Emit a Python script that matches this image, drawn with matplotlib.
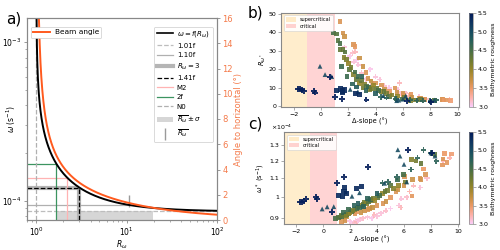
import numpy as np
import matplotlib
matplotlib.use("Agg")
import matplotlib.pyplot as plt
from matplotlib.colors import LinearSegmentedColormap, Normalize
from matplotlib.cm import ScalarMappable
from matplotlib.patches import Patch
from matplotlib.lines import Line2D
from matplotlib.ticker import NullLocator

# ---------------- panel a values ----------------
f_cor = 8.6e-5          # Coriolis frequency (s^-1)
N0 = 1.67e-3            # buoyancy frequency (s^-1)
M2 = 1.405e-4           # M2 tidal frequency (s^-1)
R_mean = 10.6
R_sigma = 8.95
R_three = 3.0
a_xlim = (0.79, 100)
a_ylim = (7.6e-5, 1.42e-3)
angle_ylim = (0, 16)
angle_ticks = [0, 2, 4, 6, 8, 10, 12, 14, 16]

# ---------------- panels b, c values ----------------
# x = delta-slope (deg), R = R_omega*, w = omega* (x1e-4 s^-1), r = bathymetric roughness
navP_x = [-1.7, -1.55, -1.4, -1.25, -0.5, -0.45, 0.65, 1.0, 1.53, 3.33, 6.28, 8.05]
navP_R = [9.3, 9.1, 8.8, 8.4, 8.0, 7.4, 15.9, 5.2, 4.0, 3.6, 3.0, 2.5]
navP_w = [0.975, 0.978, 0.983, 0.99, 1.0, 0.992, 0.927, 1.073, 1.105, 1.163, 1.268, 1.25]
navP_r = 5.45

navS_x = [1.15, 1.45, 1.55, 1.6, 1.75, 2.5, 2.85]
navS_R = [8.7, 9.3, 8.2, 7.6, 8.8, 7.0, 6.3]
navS_w = [1.008, 1.005, 1.03, 1.05, 1.02, 1.044, 1.055]
navS_r = 5.35

tri_x = [-0.07, 0.3, 0.79, 2.14, 2.7, 4.56, 5.54, 5.7, 6.0, 6.2, 8.0, 8.3]
tri_R = [21.6, 17.1, 16.0, 9.1, 7.8, 5.7, 3.0, 3.3, 3.8, 5.5, 3.1, 3.3]
tri_w = [0.943, 0.953, 0.954, 1.005, 1.023, 1.073, 1.27, 1.23, 1.18, 1.08, 1.25, 1.23]
tri_r = 5.0

grnP_x = [4.4, 4.8, 5.5, 7.45, 8.0, 8.4, 6.5, 7.0]
grnP_R = [5.0, 4.6, 4.0, 3.0, 2.8, 3.2, 3.3, 3.1]
grnP_w = [1.075, 1.08, 1.107, 1.268, 1.25, 1.198, 1.15, 1.22]
grnP_r = 4.7

sq_x = [0.9, 1.14, 1.26, 1.38, 1.38, 1.62, 1.75, 1.5, 1.87, 2.1, 2.36, 2.6, 2.84, 3.08,
        3.57, 4.05, 4.4, 4.78, 5.0, 5.5, 5.97, 6.55, 6.9, 7.27, 8.3, 1.7, 2.0, 2.2, 2.5,
        2.7, 2.95, 3.2, 3.35, 3.5, 3.7, 3.85, 4.2, 4.6, 3.0, 2.3, 1.9, 2.6, 3.3, 4.0,
        5.2, 5.6, 6.1]
sq_R = [39.6, 39.0, 35.6, 34.0, 30.6, 30.6, 29.3, 21.6, 25.2, 19.8, 17.0, 14.3, 12.4, 9.8,
        9.0, 9.7, 7.9, 7.0, 5.2, 4.3, 3.8, 3.2, 3.4, 3.5, 3.0, 26.5, 23.0, 21.0, 18.5,
        16.0, 14.0, 12.0, 11.0, 10.5, 9.5, 11.5, 8.5, 8.0, 16.0, 12.0, 16.0, 10.5, 8.5, 7.0,
        6.0, 5.5, 4.8]
sq_w = [0.900, 0.902, 0.905, 0.908, 0.912, 0.915, 0.918, 0.925, 0.920, 0.930, 0.940, 0.952,
        0.960, 0.975, 0.985, 1.000, 1.020, 1.035, 1.060, 1.090, 1.120, 1.210, 1.200, 1.186,
        1.240, 0.910, 0.925, 0.935, 0.945, 0.950, 0.965, 0.970, 0.980, 0.990, 0.995, 0.985,
        1.010, 1.030, 0.955, 0.960, 0.940, 0.970, 0.995, 1.020, 1.045, 1.060, 1.080]
sq_r = [4.5, 4.4, 4.4, 4.5, 4.3, 4.3, 4.4, 4.6, 4.2, 4.4, 4.1, 4.3, 4.0, 4.2,
        4.1, 4.3, 4.0, 4.2, 4.4, 4.6, 4.5, 4.1, 4.2, 4.3, 4.4, 4.1, 4.0, 4.2, 4.5,
        4.6, 4.3, 4.1, 4.4, 4.6, 4.2, 4.0, 4.5, 4.3, 4.7, 4.7, 4.6, 4.8, 4.7, 4.8,
        4.1, 4.0, 4.2]

org_x = [1.38, 1.62, 1.73, 2.36, 2.48, 3.08, 3.3, 3.45, 3.66, 4.43, 4.66, 5.0, 5.42, 5.55,
         6.0, 6.04, 6.6, 6.65, 7.2, 7.27, 7.44, 7.6, 8.87, 8.9, 9.0, 9.2, 9.5, 2.8, 4.0]
org_R = [45.9, 39.6, 37.7, 33.4, 32.4, 21.6, 18.4, 15.0, 13.7, 11.5, 9.3, 7.9, 9.9, 7.5,
         6.9, 5.8, 6.3, 5.0, 4.5, 4.2, 3.8, 3.6, 3.6, 3.5, 3.3, 3.3, 3.2, 26.0, 12.5]
org_w = [0.885, 0.890, 0.905, 0.920, 0.930, 0.935, 0.940, 0.946, 0.950, 0.970, 0.980, 1.000,
         1.028, 1.040, 1.060, 1.109, 1.007, 1.094, 1.100, 1.094, 1.153, 1.120, 1.176, 1.212,
         1.247, 1.190, 1.243, 0.925, 0.960]
org_r = [3.6, 3.65, 3.7, 3.6, 3.55, 3.7, 3.6, 3.65, 3.75, 3.6, 3.7, 3.55, 3.6, 3.7,
         3.65, 3.6, 3.55, 3.7, 3.6, 3.65, 3.5, 3.6, 3.55, 3.6, 3.5, 3.55, 3.45, 3.7, 3.6]

pnk_x = [2.0, 2.1, 2.3, 2.4, 2.5, 2.6, 2.72, 2.96, 3.3, 3.6, 3.8, 4.0, 4.3, 4.65, 5.0,
         5.63, 5.75, 5.79, 6.2, 6.4, 6.7, 7.2, 7.7, 8.9, 9.4, 1.73]
pnk_R = [24.0, 27.0, 28.8, 24.0, 29.5, 25.0, 22.5, 18.0, 14.6, 20.0, 12.0, 16.0, 14.4, 11.0,
         10.0, 9.0, 12.6, 7.0, 7.0, 5.5, 4.2, 5.0, 3.8, 3.5, 3.6, 32.0]
pnk_w = [0.885, 0.882, 0.880, 0.888, 0.884, 0.890, 0.893, 0.900, 0.905, 0.900, 0.915, 0.910,
         0.923, 0.935, 0.945, 0.960, 0.950, 0.992, 1.000, 1.030, 1.060, 1.050, 1.100, 1.200,
         1.220, 0.890]
pnk_r = [3.1, 3.05, 3.15, 3.1, 3.2, 3.05, 3.1, 3.15, 3.1, 3.05, 3.2, 3.1, 3.1, 3.15, 3.05,
         3.1, 3.2, 3.1, 3.15, 3.25, 3.2, 3.1, 3.15, 3.2, 3.25, 3.1]

bc_xlim = (-2.9, 10.1)
b_ylim = (-0.3, 50.6)
c_ylim = (0.873e-4, 1.388e-4)
c_ticks = [0.9e-4, 1.0e-4, 1.1e-4, 1.2e-4, 1.3e-4]
c_ticklabels = ['0.9', '1', '1.1', '1.2', '1.3']
cb_ticks = [3.0, 3.5, 4.0, 4.5, 5.0, 5.5]

batlow_r = ['#FACCFA', '#FDB0A7', '#EB9965', '#C08F3D', '#93852A', '#6B7A33',
            '#466E47', '#27605A', '#174B61', '#0E3460', '#011959']
cmap = LinearSegmentedColormap.from_list('batlow_r', batlow_r)
norm = Normalize(3.0, 5.5)

ORANGE = '#ff5a1e'
ORANGE_T = '#f47a4a'
SPINE = '#888888'

fig = plt.figure(figsize=(5, 2.5), dpi=100)

# =============== panel a ===============
axA = fig.add_axes([0.054, 0.12, 0.38, 0.808])
for s in axA.spines.values():
    s.set_color(SPINE)


def R_of(omega):
    r2 = (omega / f_cor) ** 2
    return (r2 + 1) / (r2 - 1)


R_curve = np.logspace(np.log10(1.0008), 2, 900)
omega_curve = f_cor * np.sqrt((R_curve + 1) / (R_curve - 1))
with np.errstate(invalid='ignore'):
    beam_curve = np.degrees(np.arctan(np.sqrt((omega_curve ** 2 - f_cor ** 2) /
                                              (N0 ** 2 - omega_curve ** 2))))

x0, y0 = a_xlim[0], a_ylim[0]
axA.fill_between([R_mean - R_sigma, R_mean + R_sigma], y0, 1.01 * f_cor,
                 color='#d6d6d6', lw=0, zorder=1)
axA.hlines(1.01 * f_cor, x0, R_of(1.01 * f_cor), color='#bdbdbd', ls='--', lw=0.9, zorder=2)
axA.hlines(1.10 * f_cor, x0, R_of(1.10 * f_cor), color='#b0b0b0', lw=0.9, zorder=2)
w3 = f_cor * np.sqrt((R_three + 1) / (R_three - 1))
axA.hlines(w3, x0, R_three, color='#b5b5b5', lw=3, zorder=2)
axA.vlines(R_three, y0, w3, color='#b5b5b5', lw=3, zorder=2)
axA.hlines(w3, x0, R_three, color='k', ls='--', lw=0.9, zorder=3)
axA.vlines(R_three, y0, w3, color='k', ls='--', lw=0.9, zorder=3)
axA.hlines(M2, x0, R_of(M2), color='#ffb3b3', lw=0.9, zorder=2)
axA.vlines(R_of(M2), y0, M2, color='#ffb3b3', lw=0.9, zorder=2)
axA.hlines(2 * f_cor, x0, R_of(2 * f_cor), color='#3c9460', lw=0.9, zorder=2)
axA.vlines(R_of(2 * f_cor), y0, 2 * f_cor, color='#3c9460', lw=0.9, zorder=2)
axA.vlines(R_of(N0), y0, N0, color='#b0b0b0', ls='--', lw=0.9, zorder=2)
axA.plot([R_mean], [1.0e-4], marker='|', color='#9a9a9a', ms=8, mew=1, ls='none', zorder=3)
axA.plot(R_curve, omega_curve, color='k', lw=1.4, zorder=4)

axA.set_xscale('log')
axA.set_yscale('log')
axA.set_xlim(*a_xlim)
axA.set_ylim(*a_ylim)
axA.tick_params(labelsize=5.5, length=2.5, width=0.6, color=SPINE, pad=1.5)
axA.tick_params(which='minor', length=1.5, width=0.5, color=SPINE)
axA.set_xlabel(r'$R_\omega$', fontsize=5.5, labelpad=0.5)
axA.set_ylabel(r'$\omega$ (s$^{-1}$)', fontsize=5.5)
axA.yaxis.set_label_coords(-0.05, 0.5)

leg_handles = [
    Line2D([], [], color='k', lw=1.2),
    Line2D([], [], color='#bdbdbd', ls='--', lw=0.9),
    Line2D([], [], color='#b0b0b0', lw=0.9),
    Line2D([], [], color='#b5b5b5', lw=3),
    Line2D([], [], color='k', ls='--', lw=0.9),
    Line2D([], [], color='#ffb3b3', lw=0.9),
    Line2D([], [], color='#3c9460', lw=0.9),
    Line2D([], [], color='#b0b0b0', ls='--', lw=0.9),
    Patch(facecolor='#d6d6d6', edgecolor='none'),
    Line2D([], [], marker='|', color='#9a9a9a', ms=8, mew=1, ls='none'),
]
leg_labels = [r'$\omega=f(R_\omega)$', '1.01f', '1.10f', r'$R_\omega=3$', '1.41f', 'M2', '2f',
              'N0', r'$\overline{R_\omega}\pm\sigma$', r'$\overline{R_\omega}$']
legA = axA.legend(leg_handles, leg_labels, loc='upper right', fontsize=5.0,
                  handlelength=2.3, labelspacing=0.5, borderpad=0.4, handletextpad=0.6,
                  bbox_to_anchor=(0.995, 0.975), framealpha=1)
legA.get_frame().set_linewidth(0.5)

axA2 = axA.twinx()
axA2.plot(R_curve, beam_curve, color=ORANGE, lw=1.4, label='Beam angle')
axA2.set_ylim(*angle_ylim)
axA2.set_yticks(angle_ticks)
axA2.tick_params(labelsize=6, colors=ORANGE_T, length=2.5, width=0.6, pad=1.5)
axA2.tick_params(axis='y', color=SPINE)
axA2.set_ylabel('Angle to horizontal (°)', fontsize=6, color=ORANGE_T)
axA2.yaxis.set_label_coords(1.09, 0.5)
for s in axA2.spines.values():
    s.set_color(SPINE)
legB = axA2.legend(loc='upper left', fontsize=5.3, handlelength=2.3, borderpad=0.35,
                   handletextpad=0.6, bbox_to_anchor=(0.0, 0.975), framealpha=1)
legB.get_frame().set_linewidth(0.5)

fig.text(0.012, 0.925, 'a)', fontsize=11, va='center')
fig.text(0.495, 0.95, 'b)', fontsize=11, va='center')
fig.text(0.497, 0.505, 'c)', fontsize=11, va='center')

# =============== panels b, c ===============
axB = fig.add_axes([0.5626, 0.573, 0.3554, 0.376])
axC = fig.add_axes([0.568, 0.1028, 0.3506, 0.369])
cbB = fig.add_axes([0.9374, 0.573, 0.009, 0.376])
cbC = fig.add_axes([0.9374, 0.1028, 0.009, 0.369])

groups = [
    (pnk_x, pnk_R, pnk_w, pnk_r, 'P', 14),
    (org_x, org_R, org_w, org_r, 's', 11),
    (sq_x, sq_R, sq_w, sq_r, 's', 11),
    (grnP_x, grnP_R, grnP_w, grnP_r, 'P', 16),
    (tri_x, tri_R, tri_w, tri_r, '^', 12),
    (navS_x, navS_R, navS_w, navS_r, 's', 14),
    (navP_x, navP_R, navP_w, navP_r, 'P', 18),
]

for ax, key in ((axB, 'R'), (axC, 'w')):
    ax.axvspan(bc_xlim[0], -1, color='orange', alpha=0.2, lw=0, label='supercritical')
    ax.axvspan(-1, 1, color='red', alpha=0.17, lw=0, label='critical')
    for gx, gR, gw, gr, mk, sz in groups:
        xs = np.asarray(gx)
        cs = np.full(len(xs), gr) if np.isscalar(gr) else np.asarray(gr)
        ys = np.asarray(gR) if key == 'R' else np.asarray(gw) * 1e-4
        ax.scatter(xs, ys, c=cs, cmap=cmap, norm=norm, marker=mk, s=sz, linewidths=0,
                   alpha=0.9, zorder=3)
    ax.set_xlim(*bc_xlim)
    ax.set_xticks([-2, 0, 2, 4, 6, 8, 10])
    ax.set_xticklabels(['−2', '0', '2', '4', '6', '8', '10'])
    ax.tick_params(labelsize=4.5, length=2, width=0.5, color=SPINE, pad=1.5)
    for s in ax.spines.values():
        s.set_color(SPINE)
    ax.set_xlabel('Δ-slope (°)', fontsize=4.8, labelpad=1)
    lg = ax.legend(loc='upper left', fontsize=3.6, handlelength=2.0, handleheight=0.9,
                   borderpad=0.4, labelspacing=0.3, framealpha=0.9)
    lg.get_frame().set_linewidth(0.4)

axB.set_ylim(*b_ylim)
axB.set_yticks([0, 10, 20, 30, 40, 50])
axB.set_ylabel(r'$R_{\omega^*}$', fontsize=4.8)
axB.yaxis.set_label_coords(-0.075, 0.5)

axC.set_yscale('log')
axC.set_ylim(*c_ylim)
axC.set_yticks(c_ticks)
axC.set_yticklabels(c_ticklabels)
axC.yaxis.set_minor_locator(NullLocator())
axC.set_ylabel(r'$\omega^*$ (s$^{-1}$)', fontsize=4.8)
axC.yaxis.set_label_coords(-0.095, 0.5)
axC.text(-0.075, 1.005, r'$\times10^{-4}$', transform=axC.transAxes, fontsize=4.5,
         ha='left', va='bottom')

for cax in (cbB, cbC):
    cb = fig.colorbar(ScalarMappable(norm=norm, cmap=cmap), cax=cax)
    cb.set_ticks(cb_ticks)
    cb.set_ticklabels(['%.1f' % t for t in cb_ticks])
    cb.ax.tick_params(labelsize=4.5, length=2, width=0.5, color=SPINE, pad=1.5)
    cb.outline.set_edgecolor(SPINE)
    cb.outline.set_linewidth(0.5)
    cb.set_label('Bathymetric roughness', fontsize=4.5, labelpad=2)

fig.savefig('out.png', dpi=100)
